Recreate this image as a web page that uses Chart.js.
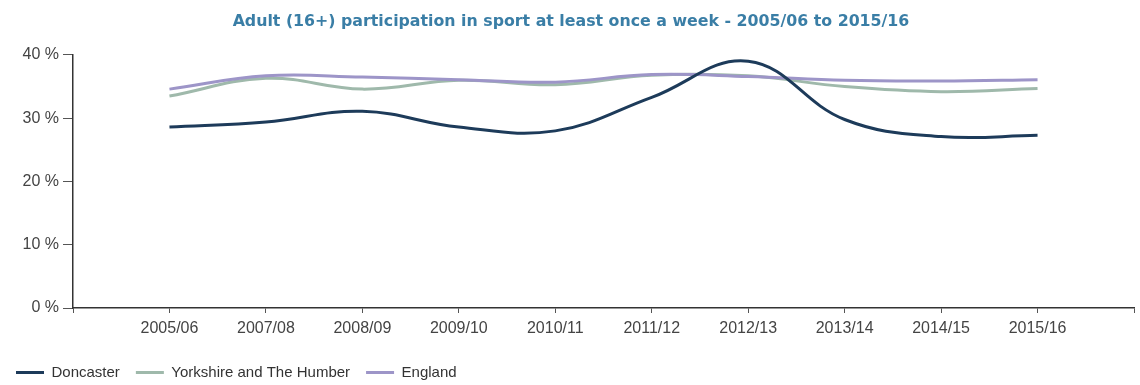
<!DOCTYPE html>
<html>
<head>
<meta charset="utf-8">
<script src="https://cdn.jsdelivr.net/npm/chart.js@4.4.1/dist/chart.umd.min.js"></script>
<style>
  html, body { margin: 0; padding: 0; background: #fff; }
  #wrap { width: 1140px; height: 385px; position: relative; }
</style>
</head>
<body>
<div id="wrap"><canvas id="sportChart"></canvas></div>
<script>
// Season labels along the x axis
const years = ['2005/06', '2007/08', '2008/09', '2009/10', '2010/11', '2011/12', '2012/13', '2013/14', '2014/15', '2015/16'];

// % of adults taking part in sport at least once a week
const doncaster = [28.6, 29.4, 31.1, 28.6, 28.0, 33.3, 39.0, 29.8, 27.1, 27.3];
const yorkshire = [33.5, 36.3, 34.6, 36.0, 35.3, 36.8, 36.7, 35.0, 34.2, 34.7];
const england   = [34.6, 36.7, 36.5, 36.1, 35.7, 36.9, 36.6, 36.0, 35.9, 36.1];

const yTicks = [0, 10, 20, 30, 40];

// the original axis leaves one empty slot before the first and after the last season
const pad = arr => [null, ...arr, null];
const labels = ['', ...years, ''];

const tickFont = { family: 'Liberation Sans, Arial, sans-serif', size: 16 };

const ctx = document.getElementById('sportChart');
new Chart(ctx, {
    type: 'line',
    data: {
        labels: labels,
        datasets: [
            { label: 'Doncaster', data: pad(doncaster), borderColor: '#1d3b5a', backgroundColor: '#1d3b5a', borderWidth: 3, order: 0 },
            { label: 'Yorkshire and The Humber', data: pad(yorkshire), borderColor: '#9fb9ab', backgroundColor: '#9fb9ab', borderWidth: 3, order: 2 },
            { label: 'England', data: pad(england), borderColor: '#9d95c8', backgroundColor: '#9d95c8', borderWidth: 3, order: 1 }
        ]
    },
    options: {
        responsive: true,
        maintainAspectRatio: false,
        animation: false,
        layout: { padding: { left: 0, right: -2, top: 0, bottom: -5 } },
        elements: {
            point: { radius: 0, hoverRadius: 0 },
            line: { tension: 0.4, spanGaps: false }
        },
        plugins: {
            title: {
                display: true,
                text: 'Adult (16+) participation in sport at least once a week - 2005/06 to 2015/16',
                color: '#3a7ea6',
                font: { family: 'DejaVu Sans, Verdana, sans-serif', size: 15.8, weight: 'bold' },
                padding: { top: 12, bottom: 24 }
            },
            legend: {
                position: 'bottom',
                align: 'start',
                labels: {
                    color: '#333',
                    font: { family: 'Liberation Sans, Arial, sans-serif', size: 15 },
                    boxWidth: 28,
                    boxHeight: 3,
                    padding: 16,
                    sort: (a, b) => a.datasetIndex - b.datasetIndex,
                    generateLabels: chart => Chart.defaults.plugins.legend.labels.generateLabels(chart).map(l => ({ ...l, lineWidth: 0 }))
                }
            },
            tooltip: { enabled: false }
        },
        scales: {
            x: {
                offset: false,
                border: { display: true, color: '#333', width: 1.5 },
                grid: { display: true, drawOnChartArea: false, drawTicks: true, tickLength: 5, color: '#555' },
                ticks: { color: '#444', font: tickFont, maxRotation: 0, autoSkip: false, padding: 6 },
                afterFit: scale => { scale.height = 41; }
            },
            y: {
                min: yTicks[0],
                max: yTicks[yTicks.length - 1],
                border: { display: true, color: '#333', width: 1.5 },
                grid: { display: true, drawOnChartArea: false, drawTicks: true, tickLength: 10, color: '#555' },
                afterBuildTicks: scale => { scale.ticks = yTicks.map(v => ({ value: v })); },
                ticks: { color: '#444', font: tickFont, padding: 4, callback: v => v + ' %' },
                afterFit: scale => { scale.width = 73; }
            }
        }
    }
});
</script>
</body>
</html>
